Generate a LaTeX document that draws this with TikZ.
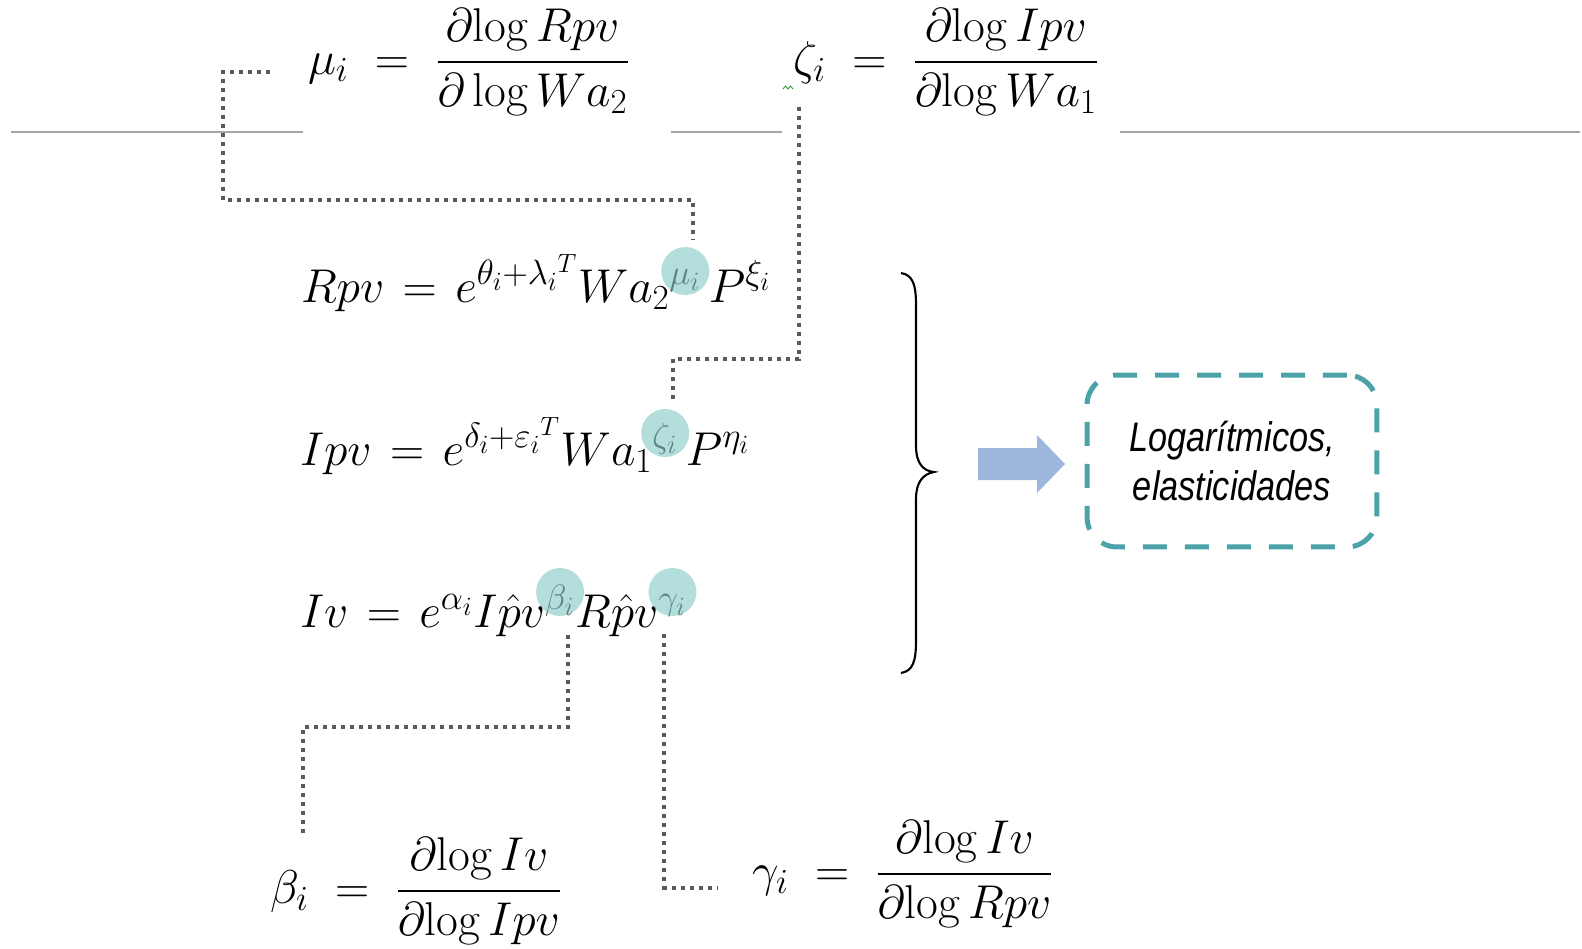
\RequirePackage{fix-cm}
\documentclass[tikz,border=0pt]{standalone}
\usepackage{amsmath}
\usepackage{fontspec}
\newfontfamily\boxfont[FakeStretch=0.83]{Liberation Sans}
\usetikzlibrary{calc}
\DeclareMathSizes{27}{27}{20}{15}
\definecolor{dotc}{HTML}{595959}
\definecolor{rulec}{HTML}{A6A6A6}
\definecolor{circc}{HTML}{8ACDC8}
\definecolor{boxc}{HTML}{4BA3A9}
\definecolor{arrc}{HTML}{9DB6DC}
\definecolor{squig}{HTML}{3A9A3A}
\newcommand{\eqs}{\mskip2mu=\mskip2mu}
\begin{document}
\begin{tikzpicture}[x=0.02cm,y=-0.02cm,
 eqn/.style={inner sep=0pt, outer sep=0pt, anchor=base west, font=\fontsize{27}{32}\selectfont},
 bigeq/.style={inner sep=0pt, outer sep=0pt, anchor=base west, font=\fontsize{27}{32}\selectfont},
 dotln/.style={draw=dotc, line width=0.08cm, dash pattern=on 0.08cm off 0.1cm},
 rulel/.style={draw=rulec, line width=0.9pt},
 hl/.style={circle, fill=circc, fill opacity=0.65, minimum size=0.96cm, inner sep=0pt},
 ]
\useasboundingbox (0,0) rectangle (1582,948);

% horizontal rules
\draw[rulel] (11,132) -- (303,132);
\draw[rulel] (671,132) -- (782,132);
\draw[rulel] (1120,132) -- (1580,132);

% top formulas
\node[bigeq] (mueq) at (308,74) {$\mu_i \;=\; \dfrac{\partial\mathrm{log}\,Rpv}{\partial\,\mathrm{log}\,Wa_2}$};
\node[bigeq] (zeq) at (793,74) {$\zeta_i \;=\; \dfrac{\partial\mathrm{log}\,Ipv}{\partial\mathrm{log}\,Wa_1}$};

% bottom formulas
\node[bigeq] (beq) at (270,903) {$\beta_i \;=\; \dfrac{\partial\mathrm{log}\,Iv}{\partial\mathrm{log}\,Ipv}$};
\node[bigeq] (geq) at (752,886) {$\gamma_i \;=\; \dfrac{\partial\mathrm{log}\,Iv}{\partial\mathrm{log}\,Rpv}$};

% middle equations
\node[eqn] (r1a) at (301,302) {$Rpv \eqs e^{\theta_i+\lambda_i{}^{T}}Wa_2$};
\node[eqn] (r1m) at (r1a.base east) {${}^{\mu_i}$};
\node[eqn] (r1b) at (r1m.base east) {$\,P^{\xi_i}$};

\node[eqn] (r2a) at (300,465) {$Ipv \eqs e^{\delta_i+\varepsilon_i{}^{T}}Wa_1$};
\node[eqn] (r2m) at (r2a.base east) {${}^{\zeta_i}$};
\node[eqn] (r2b) at (r2m.base east) {$\,P^{\eta_i}$};

\node[eqn] (r3a) at (300,627) {$Iv \eqs e^{\alpha_i}I\hat{p}v$};
\node[eqn] (r3m) at (r3a.base east) {${}^{\beta_i}$};
\node[eqn] (r3b) at (r3m.base east) {$R\hat{p}v$};
\node[eqn] (r3n) at (r3b.base east) {${}^{\gamma_i}$};

% highlight circles
\node[hl] (c1) at ($(r1m.base)+(0,-31)$) {};
\node[hl] (c2) at ($(r2m.base)+(0,-32)$) {};
\node[hl] (c3) at ($(r3m.base)+(0,-35)$) {};
\node[hl] (c4) at ($(r3n.base)+(0,-35)$) {};

% dotted connectors
\coordinate (s1) at (270,72);
\coordinate (t1) at ($(c1.north)+(8,-8)$);
\coordinate (s2) at (799,107);
\coordinate (t2) at ($(c2.north)+(8,-9)$);
\coordinate (t3) at ($(c3.south)+(8,19)$);
\coordinate (e3) at (303,837);
\coordinate (t4) at ($(c4.south)+(-8,18)$);
\coordinate (e4) at (718,888);
\draw[dotln] (s1) -- (223,72) -- (223,200) -| (t1);
\draw[dotln] (s2) -- (799,359) -| (t2);
\draw[dotln] (t3) |- (303,727) -- (e3);
\draw[dotln] (t4) |- (e4);

% brace
\draw[line width=1.2pt] (901,273) .. controls (913,275) and (916,285) .. (916,305)
  -- (916,446) .. controls (916,463) and (923,471) .. (934,472)
  .. controls (923,474) and (916,482) .. (916,499)
  -- (916,641) .. controls (916,661) and (913,671) .. (901,673);

% block arrow
\fill[arrc] (978,448) -- (1037,448) -- (1037,435) -- (1065,464) -- (1037,493) -- (1037,480) -- (978,480) -- cycle;

% dashed box
\node[draw=boxc, line width=0.1cm, dash pattern=on 0.48cm off 0.36cm, rounded corners=0.6cm,
  minimum width=5.8cm, minimum height=3.44cm, align=center,
  font=\boxfont\itshape\fontsize{23.5}{27.5}\selectfont] (box) at (1232,461) {Logarítmicos,\\elasticidades};

% spell-check squiggle
\draw[squig, line width=0.5pt] (783,89) -- (785.5,86) -- (788,89) -- (790.5,86) -- (793,89);
\end{tikzpicture}
\end{document}
